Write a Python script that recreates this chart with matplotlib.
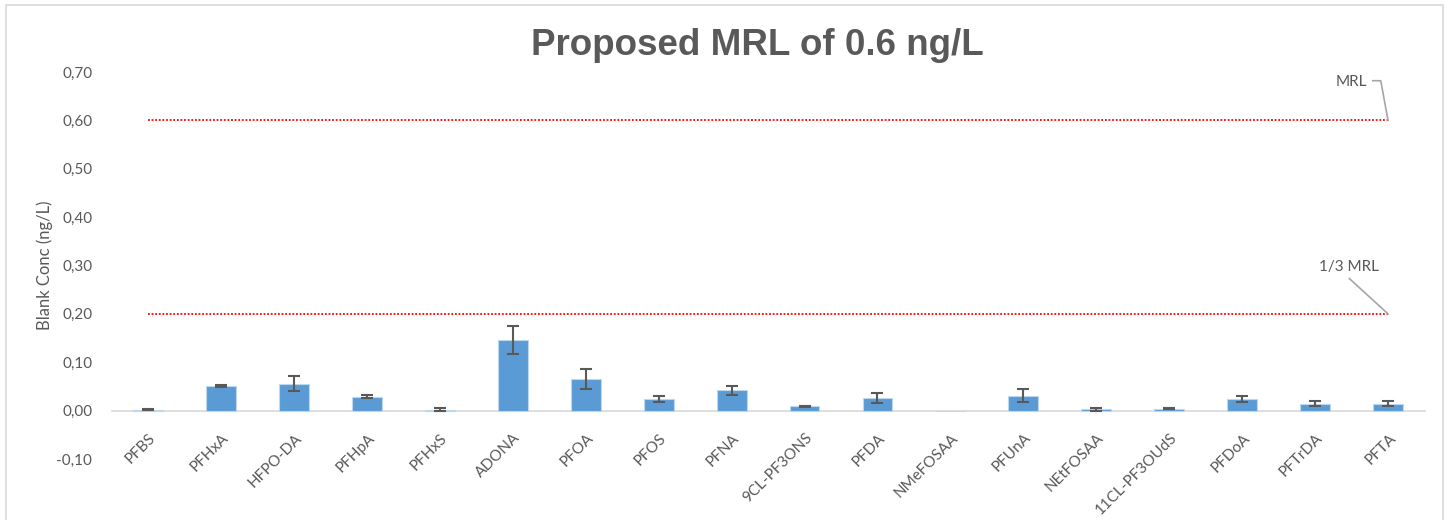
import numpy as np
import matplotlib
matplotlib.use("Agg")
import matplotlib.pyplot as plt
import matplotlib.transforms as mtransforms
from matplotlib.patches import Rectangle

# blank concentrations (ng/L)
compounds = ["PFBS", "PFHxA", "HFPO-DA", "PFHpA", "PFHxS", "ADONA", "PFOA", "PFOS",
             "PFNA", "9CL-PF3ONS", "PFDA", "NMeFOSAA", "PFUnA", "NEtFOSAA",
             "11CL-PF3OUdS", "PFDoA", "PFTrDA", "PFTA"]
blank_conc = [0.002, 0.050, 0.056, 0.029, 0.002, 0.146, 0.066, 0.024,
              0.042, 0.009, 0.026, 0.0, 0.031, 0.003,
              0.004, 0.024, 0.014, 0.014]
blank_err = [0.001, 0.002, 0.016, 0.003, 0.003, 0.029, 0.021, 0.006,
             0.009, 0.001, 0.010, 0.0, 0.013, 0.003,
             0.001, 0.007, 0.005, 0.005]
mrl = 0.6
yticks = [-0.1, 0.0, 0.1, 0.2, 0.3, 0.4, 0.5, 0.6, 0.7]

gray = "#595959"
plt.rcParams["font.family"] = ["Lato", "DejaVu Sans"]

fig = plt.figure(figsize=(14.49, 5.20), dpi=100)
ax = fig.add_axes([0.0770, 0.1173, 0.9061, 0.7442])

for side in ["top", "right", "left"]:
    ax.spines[side].set_visible(False)
# category axis sits on the zero line
ax.spines["bottom"].set_position(("data", 0))
ax.spines["bottom"].set_color("#D9D9D9")
ax.spines["bottom"].set_linewidth(1.2)
ax.spines["bottom"].set_zorder(1)

x = np.arange(len(compounds))
conc = np.array(blank_conc)
err = np.array(blank_err)
ax.bar(x, conc, width=0.41, color="#5B9BD5", edgecolor="#BDD7EE",
       linewidth=0.8, zorder=2)
has_err = err > 0
ax.errorbar(x[has_err], conc[has_err], yerr=err[has_err], fmt="none", ecolor=gray,
            elinewidth=1.5, capsize=4, capthick=1.5, zorder=3)

# MRL and 1/3 MRL reference lines
for level in [mrl, mrl / 3]:
    ax.plot([x[0], x[-1]], [level, level], color="#FF0000",
            linestyle=(0, (1, 1)), linewidth=1.3, zorder=1)

# leader labels
ax.text(16.5, 0.680, "MRL", ha="center", va="center", color=gray, fontsize=11)
ax.plot([16.79, 16.9, x[-1]], [0.682, 0.682, mrl], color="#A6A6A6", lw=1.2)
ax.text(16.47, 0.2975, "1/3 MRL", ha="center", va="center", color=gray, fontsize=11)
ax.plot([16.47, x[-1]], [0.273, mrl / 3], color="#A6A6A6", lw=1.2)

ax.set_xlim(-0.5, len(compounds) - 0.5)
ax.set_ylim(-0.1, 0.7)
ax.set_yticks(yticks)
ax.set_yticklabels([f"{v:.2f}".replace(".", ",") for v in yticks],
                   color=gray, fontsize=11)
ax.set_xticks(x)
ax.set_xticklabels(compounds, rotation=45, ha="right", va="center",
                   rotation_mode="anchor", color=gray, fontsize=11)
ax.tick_params(axis="both", length=0)
ax.tick_params(axis="y", pad=14)
ax.tick_params(axis="x", pad=18)
shift = mtransforms.ScaledTranslation(4 / 72, 0, fig.dpi_scale_trans)
for lbl in ax.get_xticklabels():
    lbl.set_transform(lbl.get_transform() + shift)

ax.set_ylabel("Blank Conc (ng/L)", color=gray, fontsize=12, labelpad=2)

fig.text(0.5228, 1 - 55 / 520, "Proposed MRL of 0.6 ng/L", ha="center",
         va="baseline", fontsize=26.5, fontweight="bold", color=gray,
         family="Liberation Sans")

# outer chart frame
fig.patches.append(Rectangle((6 / 1449, -0.05), 1437 / 1449, 1.05 - 5 / 520,
                             transform=fig.transFigure, fill=False,
                             edgecolor="#D9D9D9", linewidth=1.2))

fig.savefig("out.png", dpi=100)
